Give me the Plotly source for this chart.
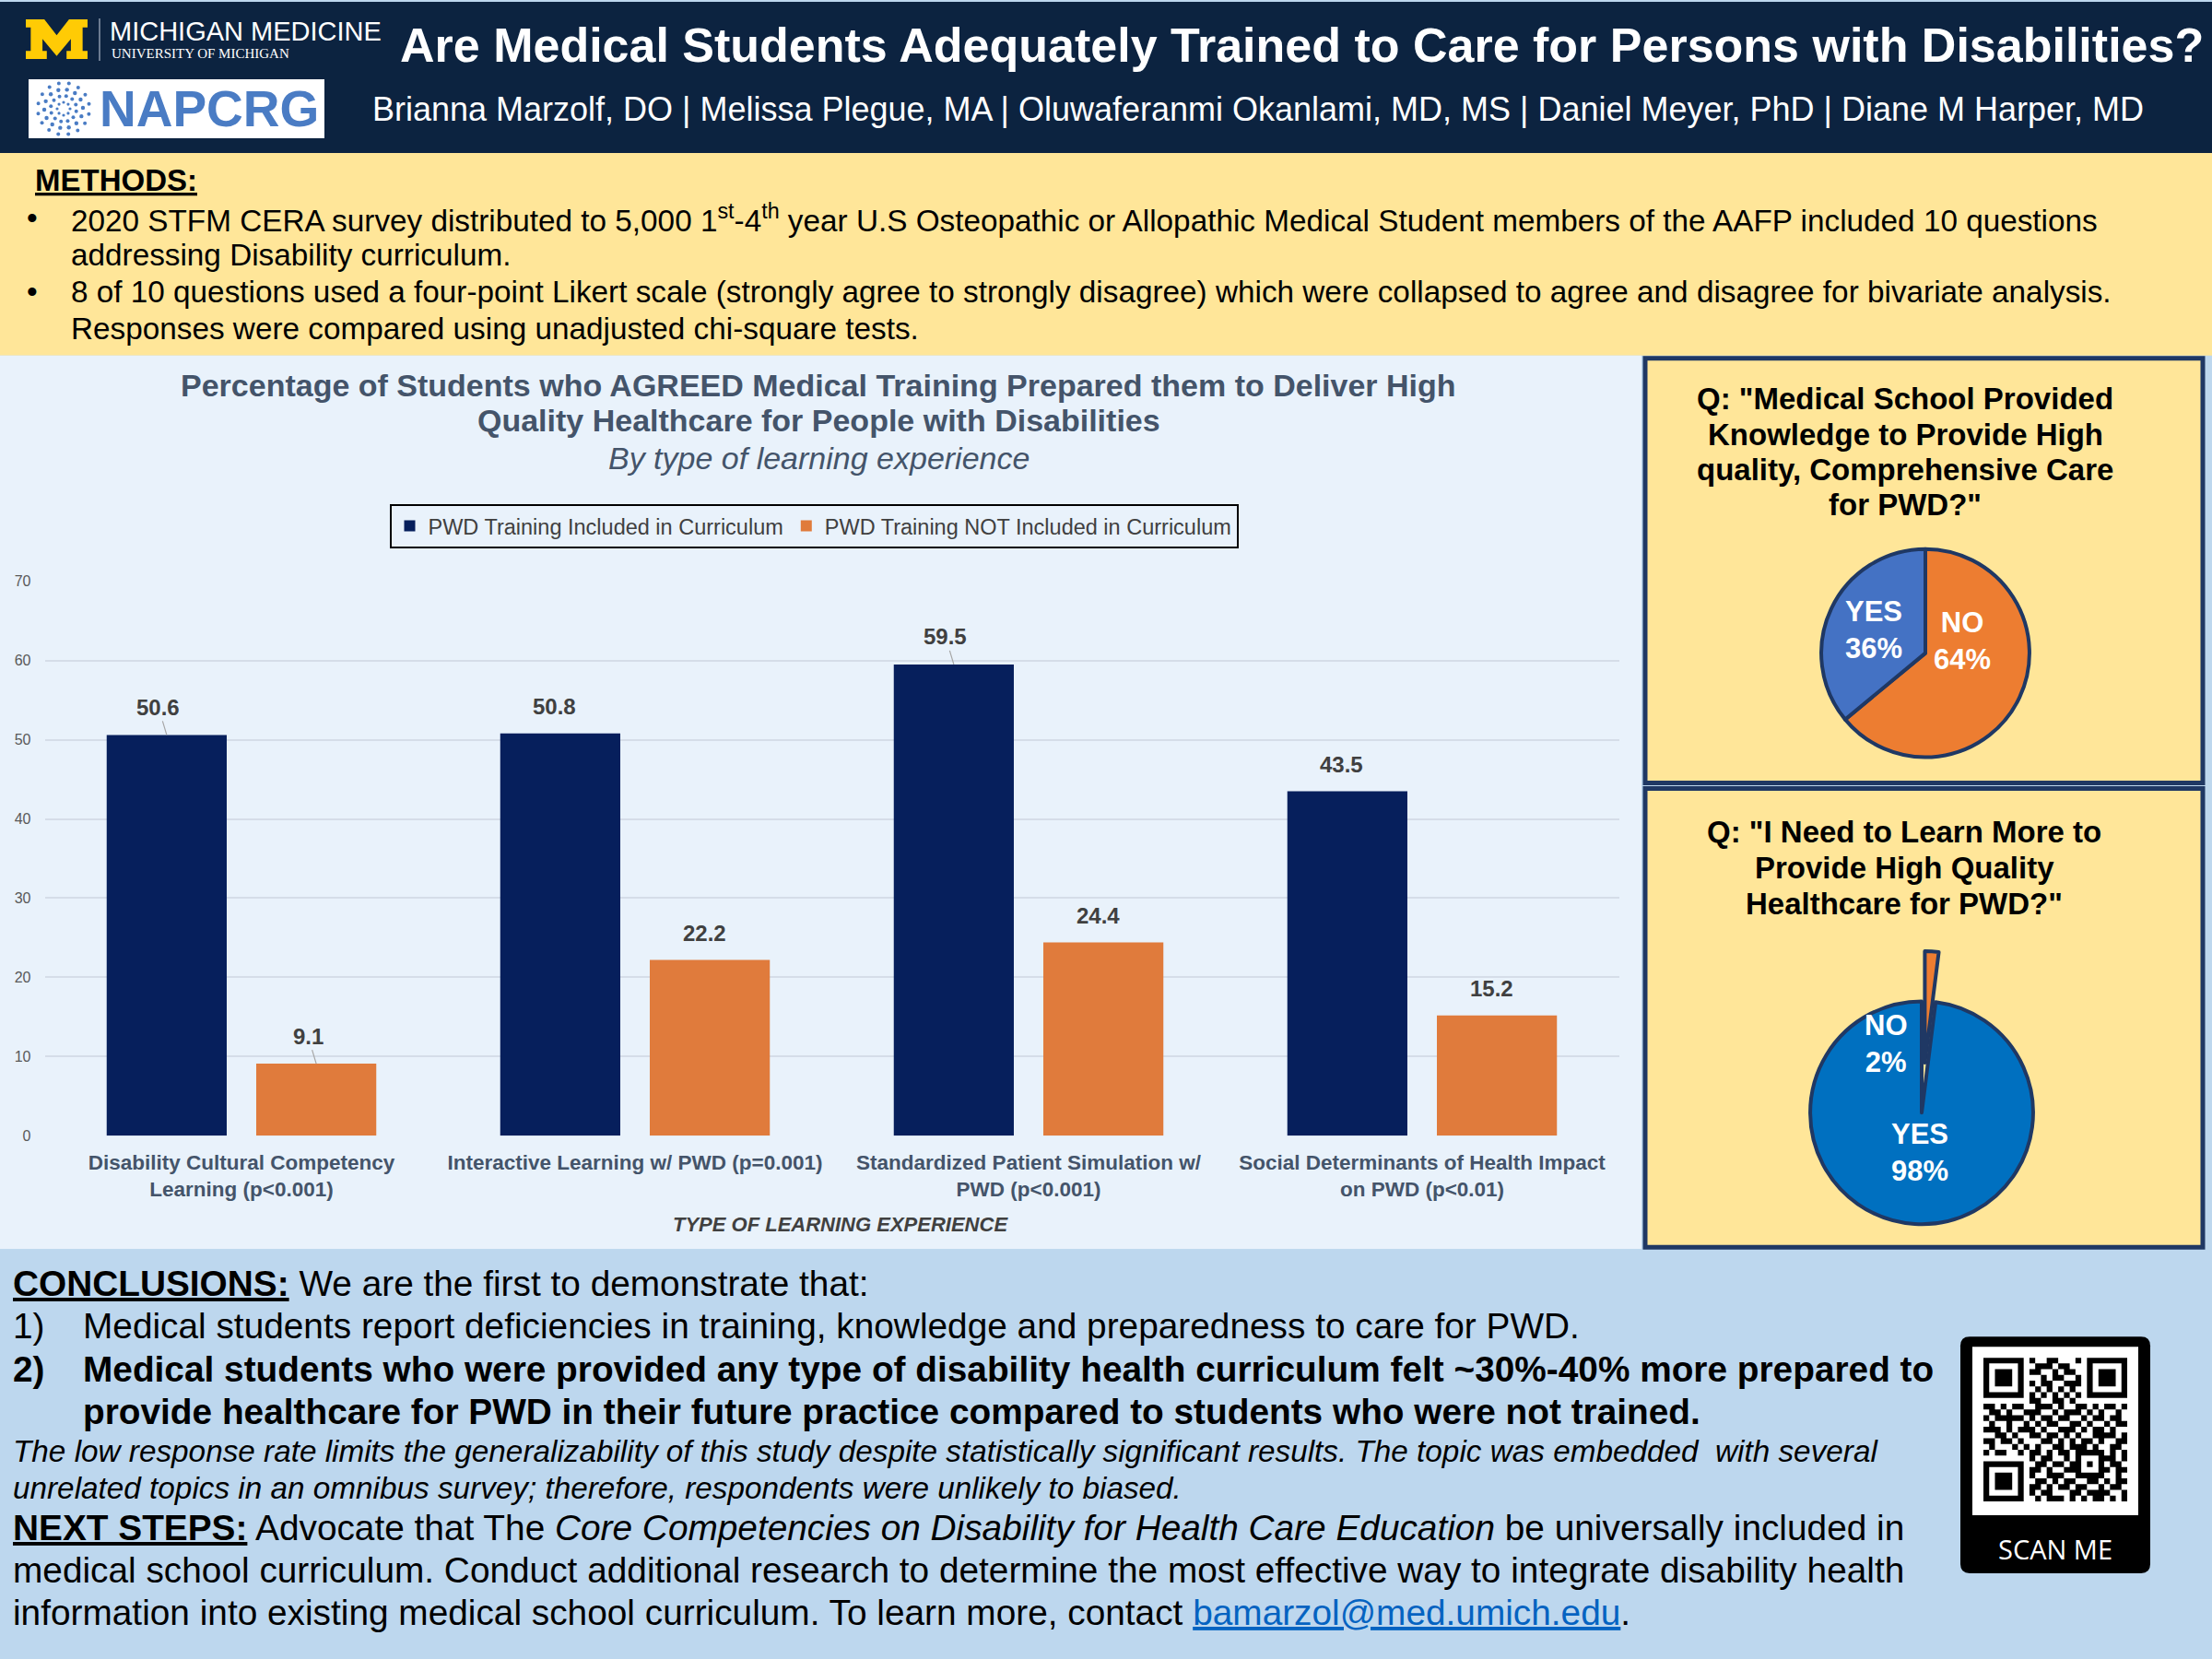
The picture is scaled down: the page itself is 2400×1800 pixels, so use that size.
import math
import plotly.graph_objects as go

# ---------------- data ----------------
categories = [
    "Disability Cultural Competency<br>Learning (p&lt;0.001)",
    "Interactive Learning w/ PWD (p=0.001)",
    "Standardized Patient Simulation w/<br>PWD (p&lt;0.001)",
    "Social Determinants of Health Impact<br>on PWD (p&lt;0.01)",
]
series_names = ["PWD Training Included in Curriculum", "PWD Training NOT Included in Curriculum"]
included = [50.6, 50.8, 59.5, 43.5]
not_included = [9.1, 22.2, 24.4, 15.2]
y_ticks = [0, 10, 20, 30, 40, 50, 60, 70]

pie1_labels = ["NO", "YES"]
pie1_values = [64, 36]
pie2_labels = ["NO", "YES"]
pie2_values = [2, 98]

# labels that carry a small leader line in the original (styling only)
leader_lines = [[True, False, True, False], [True, False, False, False]]

# ---------------- helpers ----------------
W, H = 2400, 1800
def X(p): return p / W
def Y(p):
    t = p * 1816 / 1800 - 8
    return 1 - t / H

FONT = "Liberation Sans, Arial, sans-serif"
NAVY_HDR = "#0c2340"
YELLOW = "#ffe699"
CHART_BG = "#e9f2fb"
CONC_BG = "#bdd7ee"
BORDER = "#1f3864"
BAR_NAVY = "#061f5c"
BAR_ORANGE = "#e07b3c"
GRAYTXT = "#44546a"

fig = go.Figure()

# ---------------- bar chart ----------------
idx = list(range(len(categories)))
BW = 0.305
OFFS = [-0.3425, 0.0375]
for name, vals, col, off in zip(series_names, [included, not_included], [BAR_NAVY, BAR_ORANGE], OFFS):
    fig.add_trace(go.Bar(x=idx, y=vals, name=name, marker=dict(color=col, line=dict(width=0)),
                         width=BW, offset=off, hoverinfo="y"))

# pies
P1C, P1R = (2089, 709), 113
fig.add_trace(go.Pie(labels=pie1_labels, values=pie1_values, sort=False, direction="clockwise",
                     rotation=0, textinfo="none", showlegend=False, hoverinfo="label+percent",
                     marker=dict(colors=["#ed7d31", "#4472c4"], line=dict(color=BORDER, width=4)),
                     domain=dict(x=[X(P1C[0] - P1R), X(P1C[0] + P1R)], y=[Y(P1C[1] + P1R), Y(P1C[1] - P1R)])))
PULL = 0.45
P2C = (2085, 1208)
R2 = 121 * (1 + PULL)
fig.add_trace(go.Pie(labels=pie2_labels, values=pie2_values, sort=False, direction="clockwise",
                     rotation=0, textinfo="none", showlegend=False, hoverinfo="label+percent",
                     pull=[PULL, 0],
                     marker=dict(colors=["#ed7d31", "#0070c0"], line=dict(color=BORDER, width=4)),
                     domain=dict(x=[X(P2C[0] - R2), X(P2C[0] + R2)], y=[Y(P2C[1] + R2), Y(P2C[1] - R2)])))

shapes = []
def rect(x0, y0, x1, y1, fill, line_color=None, lw=0, layer="below"):
    shapes.append(dict(type="rect", xref="paper", yref="paper", x0=X(x0), x1=X(x1), y0=Y(y1), y1=Y(y0),
                       fillcolor=fill, line=dict(color=line_color or fill, width=lw), layer=layer))

# background panels
rect(0, 2, 2400, 166, NAVY_HDR)
rect(0, 166, 2400, 386, YELLOW)
rect(0, 386, 1781, 1356, CHART_BG)
rect(0, 1356, 2400, 1820, CONC_BG)
rect(1785, 389, 2390, 850, YELLOW, BORDER, 5)
rect(1785, 856, 2390, 1354, YELLOW, BORDER, 5)

# Michigan block M logo
m_pts = [(0, 0), (3, 0), (5, 2.6), (7, 0), (10, 0), (10, 1.3), (9.2, 1.3), (9.2, 5.2), (10, 5.2), (10, 6.5),
         (6.6, 6.5), (6.6, 5.2), (7.3, 5.2), (7.3, 3.2), (5, 6.0), (2.7, 3.2), (2.7, 5.2), (3.4, 5.2),
         (3.4, 6.5), (0, 6.5), (0, 5.2), (0.8, 5.2), (0.8, 1.3), (0, 1.3)]
mp = "M " + " L ".join(f"{X(28 + 6.7 * a):.5f},{Y(21 + 6.6 * b):.5f}" for a, b in m_pts) + " Z"
shapes.append(dict(type="path", xref="paper", yref="paper", path=mp, fillcolor="#ffcb05",
                   line=dict(width=0), layer="above"))
shapes.append(dict(type="line", xref="paper", yref="paper", x0=X(108), x1=X(108), y0=Y(20), y1=Y(66),
                   line=dict(color="#8a98ab", width=1.5), layer="above"))
# NAPCRG box with dotted burst icon
rect(31, 86, 352, 150, "#ffffff", layer="above")
for ring, (rad, n, sz) in enumerate([(7, 8, 1.6), (14, 12, 2.0), (21, 14, 2.2), (28, 16, 2.0)]):
    for k in range(n):
        ang = 2 * math.pi * k / n + ring * 0.2
        cx, cy = 69 + rad * math.cos(ang), 118 + rad * math.sin(ang)
        shapes.append(dict(type="circle", xref="paper", yref="paper", x0=X(cx - sz), x1=X(cx + sz),
                           y0=Y(cy + sz), y1=Y(cy - sz), fillcolor="#4a7cc4", line=dict(width=0), layer="above"))

# QR code (decorative)
qr_rows = [
    "1111111010011000101111111",
    "1000001001110110001000001",
    "1011101011001011001011101",
    "1011101000101100101011101",
    "1011101010110011101011101",
    "1000001001010101001000001",
    "1111111010101010101111111",
    "0000000011001101000000000",
    "1101011001110100110101101",
    "0110100111001011101010010",
    "1011111010110110010110110",
    "0100100101011001101001011",
    "1110101110100111010110100",
    "0011010011011010100111101",
    "1101101000110101011010011",
    "0100011101001101110100110",
    "1011001011010110111110101",
    "0000000010110010100011101",
    "1111111001101101101010110",
    "1000001011010011100011011",
    "1011101010011100111110010",
    "1011101001101011001101011",
    "1011101011010110110010110",
    "1000001010110001101111001",
    "1111111001011101010110101",
]
N = 25
grid = [[int(c) for c in r[:N].ljust(N, "0")] for r in qr_rows]
def finder(r0, c0):
    for r in range(-1, 8):
        for c in range(-1, 8):
            rr, cc = r0 + r, c0 + c
            if 0 <= rr < N and 0 <= cc < N:
                if 0 <= r <= 6 and 0 <= c <= 6:
                    grid[rr][cc] = 1 if (r in (0, 6) or c in (0, 6) or (2 <= r <= 4 and 2 <= c <= 4)) else 0
                else:
                    grid[rr][cc] = 0
finder(0, 0); finder(0, 18); finder(18, 0)
for k in range(8, 17):
    grid[6][k] = 1 - (k % 2)
    grid[k][6] = 1 - (k % 2)
for r in range(-2, 3):
    for c in range(-2, 3):
        grid[18 + r][18 + c] = 1 if (max(abs(r), abs(c)) != 1) else 0

def rounded(x0, y0, x1, y1, rr):
    return (f"M {X(x0+rr)},{Y(y0)} L {X(x1-rr)},{Y(y0)} Q {X(x1)},{Y(y0)} {X(x1)},{Y(y0+rr)} "
            f"L {X(x1)},{Y(y1-rr)} Q {X(x1)},{Y(y1)} {X(x1-rr)},{Y(y1)} L {X(x0+rr)},{Y(y1)} "
            f"Q {X(x0)},{Y(y1)} {X(x0)},{Y(y1-rr)} L {X(x0)},{Y(y0+rr)} Q {X(x0)},{Y(y0)} {X(x0+rr)},{Y(y0)} Z")
shapes.append(dict(type="path", xref="paper", yref="paper", path=rounded(2127, 1451, 2333, 1708, 10),
                   fillcolor="#000000", line=dict(width=0), layer="above"))
rect(2140, 1462, 2320, 1645, "#ffffff", layer="above")
QX0, QY0, MOD = 2152, 1474, 6.24
qp = []
for r in range(N):
    c = 0
    while c < N:
        if grid[r][c]:
            c1 = c
            while c1 < N and grid[r][c1]:
                c1 += 1
            x0, x1 = QX0 + c * MOD, QX0 + c1 * MOD
            y0, y1 = QY0 + r * MOD, QY0 + (r + 1) * MOD
            qp.append(f"M {X(x0):.5f},{Y(y0):.5f} L {X(x1):.5f},{Y(y0):.5f} L {X(x1):.5f},{Y(y1):.5f} L {X(x0):.5f},{Y(y1):.5f} Z")
            c = c1
        else:
            c += 1
shapes.append(dict(type="path", xref="paper", yref="paper", path=" ".join(qp), fillcolor="#000000",
                   line=dict(width=0), layer="above"))

# ---------------- annotations ----------------
ann = []
def txt(x, y, s, size, color="#000000", anchor="left", bold=False, italic=False, family=FONT, yanchor="middle"):
    ann.append(dict(xref="paper", yref="paper", x=X(x), y=Y(y), text=s, showarrow=False,
                    xanchor=anchor, yanchor=yanchor, align=anchor if anchor != "middle" else "center",
                    font=dict(size=size, color=color, family=family,
                              weight="bold" if bold else "normal", style="italic" if italic else "normal")))

# header
txt(1412, 49, "Are Medical Students Adequately Trained to Care for Persons with Disabilities?", 52,
    "#ffffff", "center", bold=True)
txt(1365, 119, "Brianna Marzolf, DO | Melissa Plegue, MA | Oluwaferanmi Okanlami, MD, MS | Daniel Meyer, PhD | Diane M Harper, MD",
    36, "#ffffff", "center")
txt(117, 34, "MICHIGAN MEDICINE", 29, "#ffffff", "left")
txt(119, 58, "UNIVERSITY OF MICHIGAN", 15, "#ffffff", "left", family="Liberation Serif, serif")
txt(106, 118, "NAPCRG", 55, "#4a7cc4", "left", bold=True)

# methods
MS = 33.3
txt(36, 196, "<u>METHODS:</u>", 33, bold=True)
methods_lines = [
    ("•", "2020 STFM CERA survey distributed to 5,000 1<sup>st</sup>-4<sup>th</sup> year U.S Osteopathic or Allopathic Medical Student members of the AAFP included 10 questions"),
    ("", "addressing Disability curriculum."),
    ("•", "8 of 10 questions used a four-point Likert scale (strongly agree to strongly disagree) which were collapsed to agree and disagree for bivariate analysis."),
    ("", "Responses were compared using unadjusted chi-square tests."),
]
for i, (b, s) in enumerate(methods_lines):
    yy = 237 + 39.8 * i
    if b:
        txt(27, yy, b, MS)
    txt(75, yy, s, MS)

# chart titles
txt(888, 418, "Percentage of Students who AGREED Medical Training Prepared them to Deliver High", 34, GRAYTXT, "center", bold=True)
txt(888, 456, "Quality Healthcare for People with Disabilities", 34, GRAYTXT, "center", bold=True)
txt(888, 497, "By type of learning experience", 34, GRAYTXT, "center", italic=True)
txt(912, 1329, "TYPE OF LEARNING EXPERIENCE", 22, "#404040", "center", bold=True, italic=True)

# data labels (with small leader lines where the original has them)
for vals, off, lead in zip([included, not_included], OFFS, leader_lines):
    for i, v in enumerate(vals):
        a = dict(xref="x", yref="y", x=i + off + BW / 2, y=v, text=f"{v:.1f}",
                 font=dict(size=24, color="#404040", family=FONT, weight="bold"))
        if lead[i]:
            a.update(showarrow=True, ax=-9, ay=-30, arrowhead=0, arrowwidth=1.2,
                     arrowcolor="#a6a6a6", standoff=0, startstandoff=0)
        else:
            a.update(showarrow=False, yanchor="middle", yshift=29, xshift=-6)
        ann.append(a)

# pie titles
for i, s in enumerate(['Q: "Medical School Provided', "Knowledge to Provide High",
                       "quality, Comprehensive Care", 'for PWD?"']):
    txt(2067, 433 + 38.3 * i, s, 33, "#000000", "center", bold=True)
for i, s in enumerate(['Q: "I Need to Learn More to', "Provide High Quality", 'Healthcare for PWD?"']):
    txt(2066, 903 + 39 * i, s, 33, "#000000", "center", bold=True)

# pie labels
pie1_pos = [(2129, 696), (2033, 684)]
for lab, v, (px, py) in zip(pie1_labels, pie1_values, pie1_pos):
    txt(px, py, f"{lab}<br>{v}%", 31, "#ffffff", "center", bold=True)
pie2_pos = [(2046, 1133), (2083, 1251)]
for lab, v, (px, py) in zip(pie2_labels, pie2_values, pie2_pos):
    txt(px, py, f"{lab}<br>{v}%", 31, "#ffffff", "center", bold=True)

# conclusions
CS = 38.8
txt(12, 1393, "<b><u>CONCLUSIONS:</u></b> We are the first to demonstrate that:", CS)
txt(12, 1439, "1)", CS)
txt(88, 1439, "Medical students report deficiencies in training, knowledge and preparedness to care for PWD.", CS)
txt(12, 1486, "2)", CS, bold=True)
txt(88, 1486, "Medical students who were provided any type of disability health curriculum felt ~30%-40% more prepared to", CS, bold=True)
txt(88, 1532, "provide healthcare for PWD in their future practice compared to students who were not trained.", CS, bold=True)
txt(12, 1575, "The low response rate limits the generalizability of this study despite statistically significant results. The topic was embedded  with several", 33.3, italic=True)
txt(12, 1615, "unrelated topics in an omnibus survey; therefore, respondents were unlikely to biased.", 33.3, italic=True)
txt(12, 1658, "<b><u>NEXT STEPS:</u></b> Advocate that The <i>Core Competencies on Disability for Health Care Education</i> be universally included in", CS)
txt(12, 1705, "medical school curriculum. Conduct additional research to determine the most effective way to integrate disability health", CS)
txt(12, 1751, 'information into existing medical school curriculum. To learn more, contact <span style="color:#0563c1"><u>bamarzol@med.umich.edu</u></span>.', CS)
txt(2230, 1682, "SCAN ME", 29, "#ffffff", "center", family="Open Sans, sans-serif")

fig.update_layout(
    width=W, height=H, autosize=False,
    margin=dict(l=0, r=0, t=0, b=0, pad=0),
    paper_bgcolor=CONC_BG, plot_bgcolor="rgba(0,0,0,0)",
    barmode="overlay",
    font=dict(family=FONT),
    xaxis=dict(domain=[X(48.5), X(1756.5)], range=[-0.5, 3.5], tickvals=idx, ticktext=categories,
               showgrid=False, zeroline=False, showline=False, ticks="", ticklabelstandoff=13,
               tickfont=dict(size=22.5, color=GRAYTXT, family=FONT, weight="bold")),
    yaxis=dict(domain=[Y(1233), Y(631)], range=[0, 70], tickvals=y_ticks, showgrid=True,
               gridcolor="#d5dde8", gridwidth=1.5, zeroline=False, showline=False, ticks="",
               ticklabelstandoff=14, tickfont=dict(size=16, color="#595959", family=FONT)),
    legend=dict(orientation="h", x=X(883), xanchor="center", y=Y(571), yanchor="middle",
                bgcolor=CHART_BG, bordercolor="#000000", borderwidth=2,
                font=dict(size=23.5, color="#404040", family=FONT), itemwidth=30, tracegroupgap=0),
    shapes=shapes, annotations=ann,
)

fig.write_html("out.html", config={"displayModeBar": False},
               post_script="document.documentElement.style.background='#bdd7ee';document.body.style.background='#bdd7ee';document.body.style.margin='0';document.body.style.overflow='hidden';")
